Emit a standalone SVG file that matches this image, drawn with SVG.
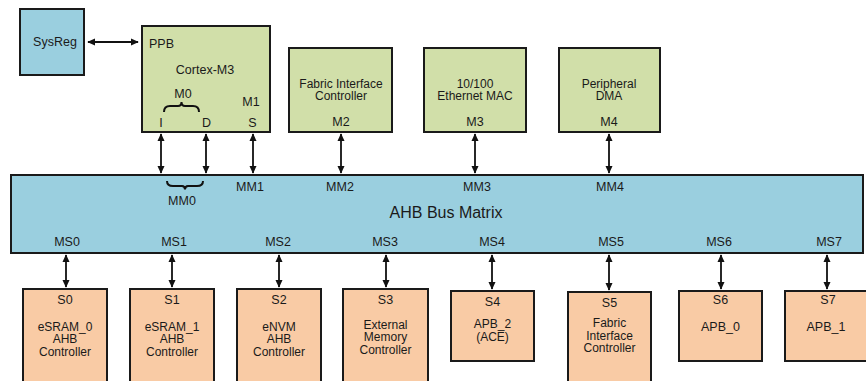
<svg xmlns="http://www.w3.org/2000/svg" width="866" height="381" viewBox="0 0 866 381">
<defs>
<marker id="ah" viewBox="0 0 10 10" refX="9" refY="5" markerWidth="8" markerHeight="8" markerUnits="userSpaceOnUse" orient="auto-start-reverse">
<path d="M0,0.5 L10,5 L0,9.5 z" fill="#111"/>
</marker>
<style>
text{font-family:"Liberation Sans",Arial,sans-serif;font-size:12.5px;fill:#1a1a1a;text-anchor:middle}
.t{font-size:12px}
.m{fill:#d1dfa9;stroke:#1a1a1a;stroke-width:2}
.s{fill:#f9cba5;stroke:#1a1a1a;stroke-width:2}
.b{fill:#9acfdf;stroke:#1a1a1a;stroke-width:2}
.c{stroke:#111;stroke-width:1.8;fill:none;marker-start:url(#ah);marker-end:url(#ah)}
.br{stroke:#111;stroke-width:2;fill:none}
</style>
</defs>
<g id="sysreg"><rect class="b" x="20" y="9" width="64" height="66"/><text x="55" y="45.5">SysReg</text></g>
<g id="cortex">
<rect class="m" x="142" y="26" width="128" height="106"/>
<text x="149" y="48" style="text-anchor:start">PPB</text>
<text x="205" y="74">Cortex-M3</text>
<text x="183" y="98">M0</text>
<path class="br" d="M164,112 Q164,106 170,106 L178,106 Q181.5,106 181.5,102 Q181.5,106 185,106 L193,106 Q199,106 199,112"/>
<text x="251" y="106">M1</text>
<text x="161" y="127">I</text>
<text x="206.5" y="127">D</text>
<text x="252.5" y="127">S</text>
</g>
<g id="fic-m"><rect class="m" x="289" y="48" width="103" height="84"/><text class="t" x="341" y="87.5">Fabric Interface</text><text class="t" x="341" y="100">Controller</text><text x="341" y="126">M2</text></g>
<g id="eth"><rect class="m" x="424" y="48" width="102" height="84"/><text class="t" x="475" y="87.5">10/100</text><text class="t" x="475" y="100">Ethernet MAC</text><text x="475" y="126">M3</text></g>
<g id="pdma"><rect class="m" x="559" y="48" width="101" height="84"/><text class="t" x="609" y="87.5">Peripheral</text><text class="t" x="609" y="100">DMA</text><text x="609" y="126">M4</text></g>
<g id="bus">
<rect class="b" x="11" y="175" width="852" height="78"/>
<path class="br" d="M167,181 Q167,186 173,186 L182,186 Q185,186 185,189.5 Q185,186 188,186 L197,186 Q203,186 203,181"/>
<text x="182" y="205">MM0</text>
<text x="250" y="190.5">MM1</text>
<text x="340" y="190.5">MM2</text>
<text x="477" y="190.5">MM3</text>
<text x="610" y="190.5">MM4</text>
<text x="446" y="217.5" style="font-size:16px">AHB Bus Matrix</text>
<text x="67" y="246">MS0</text>
<text x="174" y="246">MS1</text>
<text x="278" y="246">MS2</text>
<text x="385" y="246">MS3</text>
<text x="492" y="246">MS4</text>
<text x="611" y="246">MS5</text>
<text x="719" y="246">MS6</text>
<text x="829" y="246">MS7</text>
</g>
<g id="s0"><rect class="s" x="23" y="289" width="84" height="100"/><text x="65" y="304">S0</text><text class="t" x="65" y="330.5">eSRAM_0</text><text class="t" x="65" y="343">AHB</text><text class="t" x="65" y="355.5">Controller</text></g>
<g id="s1"><rect class="s" x="130" y="289" width="84" height="100"/><text x="172" y="304">S1</text><text class="t" x="172" y="330.5">eSRAM_1</text><text class="t" x="172" y="343">AHB</text><text class="t" x="172" y="355.5">Controller</text></g>
<g id="s2"><rect class="s" x="237" y="289" width="84" height="100"/><text x="279" y="304">S2</text><text class="t" x="279" y="330.5">eNVM</text><text class="t" x="279" y="343">AHB</text><text class="t" x="279" y="355.5">Controller</text></g>
<g id="s3"><rect class="s" x="343" y="289" width="85" height="100"/><text x="385.5" y="304">S3</text><text class="t" x="385.5" y="328.5">External</text><text class="t" x="385.5" y="341">Memory</text><text class="t" x="385.5" y="353.5">Controller</text></g>
<g id="s4"><rect class="s" x="451" y="291" width="83" height="70"/><text x="492.5" y="306">S4</text><text class="t" x="492.5" y="328">APB_2</text><text class="t" x="492.5" y="340.5">(ACE)</text></g>
<g id="s5"><rect class="s" x="568" y="292" width="83" height="100"/><text x="609.5" y="306.5">S5</text><text class="t" x="609.5" y="327">Fabric</text><text class="t" x="609.5" y="339.5">Interface</text><text class="t" x="609.5" y="352">Controller</text></g>
<g id="s6"><rect class="s" x="679" y="291" width="83" height="70"/><text x="720.5" y="304">S6</text><text x="720.5" y="331">APB_0</text></g>
<g id="s7"><rect class="s" x="785" y="291" width="90" height="70"/><text x="828" y="304">S7</text><text x="826" y="331">APB_1</text></g>
<g id="connectors">
<line class="c" x1="88" y1="42" x2="138" y2="42"/>
<line class="c" x1="161" y1="134" x2="161" y2="173"/>
<line class="c" x1="206" y1="134" x2="206" y2="173"/>
<line class="c" x1="253" y1="134" x2="253" y2="173"/>
<line class="c" x1="341" y1="134" x2="341" y2="173"/>
<line class="c" x1="475" y1="134" x2="475" y2="173"/>
<line class="c" x1="609" y1="134" x2="609" y2="173"/>
<line class="c" x1="66" y1="255" x2="66" y2="287"/>
<line class="c" x1="172" y1="255" x2="172" y2="287"/>
<line class="c" x1="279" y1="255" x2="279" y2="287"/>
<line class="c" x1="386" y1="255" x2="386" y2="287"/>
<line class="c" x1="492" y1="255" x2="492" y2="289"/>
<line class="c" x1="609" y1="255" x2="609" y2="290"/>
<line class="c" x1="721" y1="255" x2="721" y2="289"/>
<line class="c" x1="827" y1="255" x2="827" y2="289"/>
</g>
</svg>
